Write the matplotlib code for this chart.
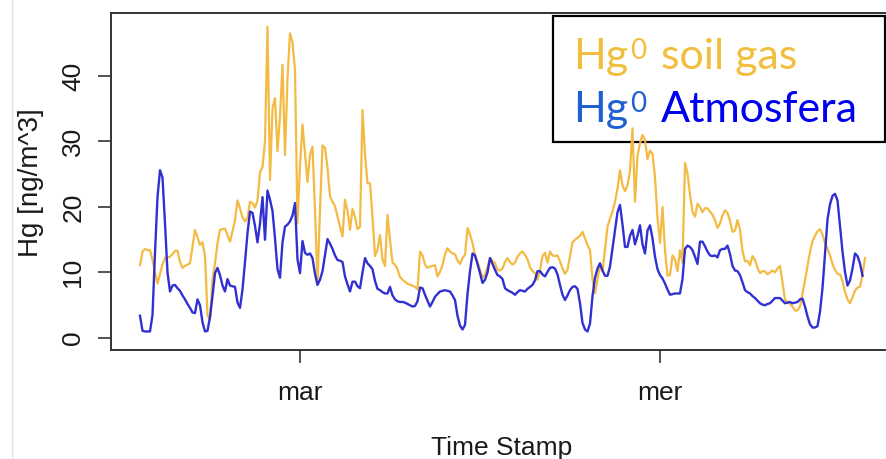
import numpy as np
import matplotlib
matplotlib.use("Agg")
import matplotlib.pyplot as plt
from matplotlib.lines import Line2D
from matplotlib.patches import Rectangle

# ---------------- data ----------------
start_hour = 13 + 1/3          # Monday 13:20 (hours since Monday 00:00)
step_hour = 1/6                # 10-minute samples
tick_hours = [24, 48]
tick_labels = ["mar", "mer"]
y_ticks = [0, 10, 20, 30, 40]

soil_gas = [
    11.1, 13.2, 13.6, 13.4, 13.4, 11.9, 10.0, 8.3, 9.8, 11.2,
    12.2, 12.3, 12.4, 12.8, 13.3, 13.3, 11.6, 10.7, 11.0, 11.2,
    11.4, 14.0, 16.5, 15.4, 14.2, 14.6, 12.5, 3.5, 2.8, 9.0,
    11.4, 14.5, 16.5, 16.6, 16.7, 15.7, 14.7, 16.3, 18.0, 21.0,
    19.8, 18.4, 17.8, 18.3, 20.8, 20.6, 19.9, 21.0, 25.3, 26.1,
    30.0, 47.5, 24.1, 35.0, 36.6, 28.5, 33.8, 41.7, 27.9, 39.6,
    46.5, 45.1, 40.9, 17.5, 26.2, 32.6, 28.2, 23.8, 28.0, 29.2,
    19.5, 8.5, 19.5, 29.4, 29.0, 26.0, 21.6, 20.8, 20.1, 18.5,
    17.0, 15.5, 21.1, 19.4, 16.5, 19.7, 18.5, 16.6, 17.0, 34.8,
    28.0, 23.6, 23.6, 18.5, 12.5, 13.5, 15.7, 12.0, 11.0, 18.8,
    15.0, 11.5, 11.2, 10.5, 9.3, 8.9, 8.6, 8.3, 8.1, 8.0,
    7.8, 7.4, 13.2, 12.6, 11.2, 10.7, 10.9, 11.0, 11.1, 9.4,
    10.1, 11.1, 12.8, 13.7, 13.2, 12.9, 12.8, 11.8, 11.3, 12.2,
    12.7, 16.8, 15.8, 14.5, 12.6, 11.6, 10.4, 9.2, 9.7, 10.8,
    12.2, 11.8, 11.4, 10.4, 10.3, 10.6, 11.6, 12.2, 11.6, 11.2,
    11.5, 12.4, 12.9, 13.2, 12.7, 12.0, 10.8, 10.2, 9.9, 8.9,
    10.3, 12.5, 13.0, 11.5, 13.2, 12.6, 12.5, 12.6, 11.7, 10.6,
    9.8, 10.4, 12.5, 14.6, 15.0, 15.3, 15.6, 16.2, 15.2, 14.2,
    13.4, 9.0, 6.8, 9.0, 11.1, 10.2, 13.5, 17.0, 18.2, 19.3,
    20.8, 22.8, 25.6, 23.3, 22.4, 23.3, 25.5, 32.0, 20.8, 27.8,
    29.7, 31.0, 30.2, 27.3, 28.6, 28.1, 24.5, 18.3, 14.5, 20.0,
    13.4, 9.5, 9.6, 12.6, 12.0, 10.2, 13.4, 11.5, 26.7, 25.1,
    21.9, 19.3, 18.5, 20.5, 20.0, 19.2, 19.8, 19.8, 19.3, 18.8,
    18.0, 16.8, 17.5, 18.7, 19.5, 19.1, 17.9, 16.2, 16.4, 18.0,
    16.5, 13.3, 11.7, 11.8, 11.1, 12.5, 11.9, 10.7, 9.9, 10.2,
    10.2, 9.7, 10.0, 10.3, 10.0, 10.6, 11.0, 8.5, 5.8, 5.5,
    5.2, 4.8, 4.2, 4.2, 4.8, 6.8, 8.8, 11.0, 13.1, 14.8,
    15.6, 16.3, 16.6, 15.8, 14.5, 13.6, 12.6, 11.3, 10.4, 9.8,
    9.7, 8.7, 7.0, 5.9, 5.3, 6.2, 7.2, 7.7, 7.8, 9.7,
    12.2,
]

atmosfera = [
    3.4, 1.1, 1.0, 1.0, 1.0, 3.5, 13.0, 21.5, 25.6, 24.5,
    17.5, 10.0, 7.1, 8.0, 8.1, 7.6, 7.2, 6.5, 5.9, 5.2,
    4.6, 3.9, 3.8, 5.9, 5.0, 2.4, 1.0, 1.1, 3.2, 6.4,
    9.9, 10.7, 9.6, 8.0, 7.1, 9.0, 8.0, 7.9, 7.8, 5.4,
    4.6, 7.4, 11.6, 16.0, 19.3, 19.1, 17.1, 14.6, 17.5, 21.5,
    15.0, 22.5, 21.1, 19.4, 15.2, 10.5, 9.2, 14.6, 17.0, 17.3,
    17.8, 18.7, 20.6, 12.0, 9.9, 14.8, 13.0, 12.7, 12.9, 12.2,
    9.8, 8.1, 8.9, 10.2, 12.7, 15.1, 14.4, 13.6, 12.6, 11.9,
    11.8, 11.6, 9.4, 8.2, 7.1, 8.6, 8.6, 7.9, 7.6, 10.0,
    12.2, 11.4, 11.0, 10.5, 8.7, 7.5, 7.3, 7.0, 6.8, 6.8,
    7.8, 6.5, 5.9, 5.6, 5.5, 5.5, 5.4, 5.2, 5.0, 4.8,
    4.9, 5.6, 7.7, 7.6, 6.6, 5.7, 4.8, 5.5, 6.3, 6.7,
    7.1, 7.2, 7.3, 7.2, 7.1, 6.5, 5.8, 3.4, 1.9, 1.3,
    2.0, 6.7, 10.2, 12.9, 12.6, 11.3, 9.9, 8.4, 8.9, 10.0,
    12.2, 11.3, 10.4, 9.6, 9.4, 9.0, 7.6, 7.3, 7.1, 6.9,
    6.6, 7.0, 7.3, 7.2, 7.1, 7.5, 7.8, 8.1, 8.8, 10.2,
    10.2, 9.7, 9.4, 10.1, 10.7, 10.8, 10.6, 9.7, 8.1, 6.6,
    5.8, 6.5, 7.3, 7.8, 7.9, 7.5, 5.3, 2.3, 1.3, 1.0,
    2.2, 6.4, 9.2, 10.6, 11.4, 10.3, 9.5, 9.5, 10.9, 13.7,
    16.5, 19.2, 20.3, 17.3, 13.9, 13.9, 15.6, 16.5, 14.3, 15.6,
    17.2, 14.3, 12.9, 16.4, 17.2, 15.2, 12.4, 10.5, 9.6, 9.1,
    8.3, 7.4, 6.6, 6.7, 6.8, 6.8, 6.8, 9.0, 13.6, 14.1,
    13.9, 13.4, 12.4, 11.3, 14.7, 14.7, 14.0, 13.2, 12.6, 12.5,
    12.6, 12.3, 13.4, 13.6, 13.6, 14.1, 12.8, 11.0, 10.3, 10.2,
    9.6, 8.5, 7.3, 7.0, 6.8, 6.4, 6.1, 5.7, 5.3, 5.1,
    5.0, 5.2, 5.3, 5.7, 6.1, 6.1, 6.1, 5.7, 5.3, 5.4,
    5.5, 5.3, 5.4, 5.5, 5.9, 6.0, 4.8, 3.3, 2.1, 1.6,
    1.6, 1.8, 4.0, 7.6, 12.8, 18.1, 20.4, 21.7, 22.0, 21.0,
    17.1, 13.2, 10.1, 8.0, 8.8, 10.6, 12.9, 12.5, 11.4, 9.5,
]

t_soil = start_hour + step_hour * np.arange(len(soil_gas))
t_atm = start_hour + step_hour * np.arange(len(atmosfera))

# ---------------- styling ----------------
W, H = 887, 459
ORANGE_LINE = "#F3B73A"
BLUE_LINE = "#2626CF"
AXIS_COLOR = "#333333"
TEXT_COLOR = "#1a1a1a"
AX_FONT = "Liberation Sans"

fig = plt.figure(figsize=(W / 100, H / 100), dpi=100)
fig.patch.set_facecolor("white")

# faint slide edge on the left
fig.add_artist(Line2D([12.5 / W, 12.5 / W], [0, 1], transform=fig.transFigure,
                      color="#e2e2e2", lw=1.0))

ax = fig.add_axes([111 / W, 1 - 350 / H, (894 - 111) / W, (350 - 13) / H])
ax.set_facecolor("white")

ax.plot(t_soil, soil_gas, color=ORANGE_LINE, lw=1.6, alpha=0.95, zorder=3)
ax.plot(t_atm, atmosfera, color=BLUE_LINE, lw=1.7, alpha=0.95, zorder=4)

ax.set_xlim(11.4, 63.6)
ax.set_ylim(-1.83, 49.6)

ax.set_xticks(tick_hours)
ax.set_xticklabels(tick_labels)
ax.set_yticks(y_ticks)
ax.set_yticklabels([str(v) for v in y_ticks])

for s in ax.spines.values():
    s.set_color(AXIS_COLOR)
    s.set_linewidth(1.4)
ax.spines["right"].set_visible(False)

ax.tick_params(axis="both", direction="out", length=9.5, width=1.2,
               color=AXIS_COLOR, labelcolor=TEXT_COLOR)
ax.tick_params(axis="x", pad=13, labelsize=19)
ax.tick_params(axis="y", pad=9, labelsize=19, labelrotation=90)
for lab in ax.get_xticklabels() + ax.get_yticklabels():
    lab.set_family(AX_FONT)
for lab in ax.get_yticklabels():
    lab.set_va("center")

ax.set_xlabel("Time Stamp", fontsize=19, family=AX_FONT, color=TEXT_COLOR)
ax.xaxis.set_label_coords(502 / W, 1 - 455 / H, transform=fig.transFigure)
ax.xaxis.label.set_va("baseline")
ax.xaxis.label.set_ha("center")

ax.set_ylabel("Hg [ng/m^3]", fontsize=20, family=AX_FONT, color=TEXT_COLOR)
ax.yaxis.set_label_coords(31 / W, 1 - 183 / H, transform=fig.transFigure)
ax.yaxis.label.set_va("center")
ax.yaxis.label.set_ha("center")

# ---------------- legend box (slide overlay) ----------------
ax.add_patch(Rectangle((553 / W, 1 - 142 / H), (885 - 553) / W, (142 - 16) / H,
                       transform=fig.transFigure, facecolor="white",
                       edgecolor="black", lw=1.6, zorder=2, clip_on=False))

LEG_FONT = ["Lato", "DejaVu Sans"]
ORANGE_TXT = "#F2BE3E"
BLUE_HG = "#1E5FD2"
BLUE_TXT = "#0000EE"


def legend_line(base_px, color_hg, rest, color_rest):
    yb = 1 - base_px / H
    t1 = ax.text(573 / W, yb, "Hg", transform=fig.transFigure, fontsize=31,
                 family=LEG_FONT, color=color_hg, va="baseline", ha="left",
                 zorder=6)
    t2 = ax.annotate("0", xy=(1, yb), xycoords=(t1, "figure fraction"),
                     xytext=(1.5, 7.5), textcoords="offset points",
                     fontsize=20, family=LEG_FONT, color=color_hg,
                     va="baseline", ha="left", zorder=6)
    ax.annotate(rest, xy=(1, yb), xycoords=(t2, "figure fraction"),
                xytext=(10.5, 0), textcoords="offset points",
                fontsize=31, family=LEG_FONT, color=color_rest,
                va="baseline", ha="left", zorder=6)


legend_line(69, ORANGE_TXT, "soil gas", ORANGE_TXT)
legend_line(122, BLUE_HG, "Atmosfera", BLUE_TXT)

fig.savefig("out.png", dpi=100, facecolor="white")
